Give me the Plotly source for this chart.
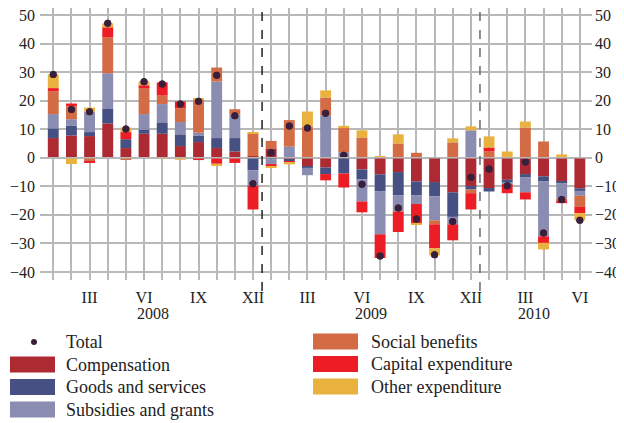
import plotly.graph_objects as go

# Months Jan 2008 .. Jun 2010
months = list(range(30))
month_labels = ["", "", "III", "", "", "VI", "", "", "IX", "", "", "XII",
                "", "", "III", "", "", "VI", "", "", "IX", "", "", "XII",
                "", "", "III", "", "", "VI"]
years = ["2008", "2009", "2010"]
year_month_counts = [12, 12, 6]

compensation = [6.9, 7.8, 7.6, 12.0, 3.4, 8.4, 8.4, 4.1, 5.5, 3.4, 2.2, 0.6,
                3.3, -0.7, -3.0, -3.4, 0.0, -4.1, -5.8, -5.0, -8.3, -8.5, -12.1, -9.9,
                -10.6, -7.7, -5.7, -6.5, -8.4, -10.7]
goods_services = [3.4, 3.5, 1.4, 5.3, 3.1, 1.5, 4.0, 4.1, 2.3, 3.5, 4.7, -4.4,
                  -0.6, -0.5, -0.5, -2.3, -5.5, -3.5, -6.0, -8.2, -4.9, -5.0, -8.6, -1.2,
                  -1.2, -0.9, -1.2, -1.8, -0.6, -0.9]
subsidies_grants = [5.0, 2.2, 7.2, 12.3, -0.4, 5.4, 6.4, 4.3, 1.0, 19.8, 8.3, -5.4,
                    -1.6, 3.9, -2.6, 14.8, 2.0, -7.7, -15.0, -5.6, -3.0, -8.4, -2.6, 9.6,
                    0.0, -0.6, -5.2, -19.2, -5.2, -1.7]
social_benefits = [8.0, 4.5, -1.2, 12.6, -0.3, 9.1, 3.0, 4.9, 11.6, 4.9, 1.8, 8.0,
                   2.6, 9.3, 11.0, 6.3, 8.4, 7.1, 0.0, 5.0, 1.75, -1.4, 5.4, -1.3,
                   2.2, 0.0, 10.6, 5.7, -0.7, -3.9]
capital_expenditure = [1.1, 1.0, -0.5, 3.5, 2.5, 1.0, 4.6, 2.3, -0.8, -2.1, -1.8, -8.3,
                       -0.8, -0.6, 0.0, -2.2, -4.9, -3.8, -8.3, -7.2, -6.7, -8.4, -5.6, -5.7,
                       1.4, -3.2, -2.5, -2.3, -1.0, -2.2]
other_expenditure = [4.8, -2.2, 1.4, 1.4, 1.6, 1.3, -0.4, -0.7, 0.4, -0.8, 0.0, 0.3,
                     -0.6, -0.5, 5.2, 2.5, 0.8, 2.5, 0.5, 3.2, -0.6, -2.5, 1.4, 1.4,
                     3.9, 2.2, 2.1, -2.3, 1.2, -2.5]
total = [29.2, 16.9, 16.1, 47.1, 10.1, 26.6, 25.8, 18.8, 19.8, 28.9, 14.7, -9.1,
         1.8, 11.1, 10.4, 15.6, 0.9, -9.3, -34.4, -17.6, -21.4, -34.0, -22.3, -6.8,
         -3.9, -9.8, -1.5, -26.3, -14.6, -21.9]

series_names = ["Compensation", "Goods and services", "Subsidies and grants",
                "Social benefits", "Capital expenditure", "Other expenditure"]
series_values = [compensation, goods_services, subsidies_grants,
                 social_benefits, capital_expenditure, other_expenditure]
series_colors = ["#ad2a33", "#465083", "#8a8db1", "#d36c45", "#ec1d25", "#e9b23f"]
total_color = "#3a1f3b"
y_ticks = [-40, -30, -20, -10, 0, 10, 20, 30, 40, 50]

FONT = "Liberation Serif"
GRID = "#b8b8b8"

fig = go.Figure()
for name, vals, col in zip(series_names, series_values, series_colors):
    fig.add_trace(go.Bar(x=months, y=vals, name=name, marker_color=col,
                         marker_line_width=0, width=0.6, showlegend=False))
fig.add_trace(go.Scatter(x=months, y=total, mode="markers", name="Total",
                         marker=dict(size=7, color=total_color), showlegend=False))
fig.add_trace(go.Scatter(x=months, y=total, mode="markers", yaxis="y2",
                         marker=dict(size=7, color=total_color), showlegend=False,
                         hoverinfo="skip"))

# page has an 8px body margin: work in page pixels and convert
OFF = 8
W, H = 624 - OFF, 423 - OFF
L, R, T, B = 40 - OFF, 592 - OFF, 0, 280 - OFF
def pxx(x):
    return (x - OFF - L) / (R - L)
def pxy(y):
    return (B - (y - OFF)) / (B - T)

Y_RANGE = [-42.8, 52.45]

shapes = []
annotations = []
# zero line above bars
shapes.append(dict(type="line", xref="paper", yref="y", x0=0, x1=1, y0=0, y1=0,
                   line=dict(color=GRID, width=1.5), layer="above"))
# year labels and separators
start = 0
year_seps = []
for i, n in enumerate(year_month_counts):
    annotations.append(dict(x=months[start] + (n - 1) / 2, y=pxy(313), xref="x", yref="paper",
                            text=years[i], showarrow=False,
                            font=dict(family=FONT, size=16, color="#222"),
                            xanchor="center", yanchor="middle"))
    if i < len(year_month_counts) - 1:
        year_seps.append(months[start + n - 1] + 0.5)
    start += n
for j, xs in enumerate(year_seps):
    shapes.append(dict(type="line", xref="x", yref="paper", x0=xs, x1=xs,
                       y0=pxy(291), y1=pxy(5),
                       line=dict(color="#222" if j == 0 else "#6a6a6a", width=1.5, dash="dash"),
                       layer="above"))

# manual legend
leg_font = dict(family=FONT, size=18, color="#222")
rows_y = [342, 364.5, 387, 409.5]
col1 = [("Total", None)] + list(zip(series_names[:3], series_colors[:3]))
col2 = list(zip(series_names[3:], series_colors[3:]))
for k, (name, col) in enumerate(col1):
    cy = rows_y[k]
    if col is None:
        shapes.append(dict(type="circle", xref="paper", yref="paper",
                           x0=pxx(31), x1=pxx(37), y0=pxy(cy + 3), y1=pxy(cy - 3),
                           fillcolor=total_color, line=dict(width=0)))
    else:
        shapes.append(dict(type="rect", xref="paper", yref="paper",
                           x0=pxx(10), x1=pxx(55), y0=pxy(cy + 8), y1=pxy(cy - 8),
                           fillcolor=col, line=dict(width=0)))
    annotations.append(dict(x=pxx(64), y=pxy(cy), xref="paper", yref="paper", text=name,
                            showarrow=False, font=leg_font, xanchor="left", yanchor="middle"))
for k, (name, col) in enumerate(col2):
    cy = rows_y[k] - 0.5
    shapes.append(dict(type="rect", xref="paper", yref="paper",
                       x0=pxx(313), x1=pxx(358), y0=pxy(cy + 8), y1=pxy(cy - 8),
                       fillcolor=col, line=dict(width=0)))
    annotations.append(dict(x=pxx(369), y=pxy(cy), xref="paper", yref="paper", text=name,
                            showarrow=False, font=leg_font, xanchor="left", yanchor="middle"))

fig.update_layout(
    width=W, height=H,
    margin=dict(l=L, r=W - R, t=T, b=H - B, autoexpand=False),
    paper_bgcolor="white", plot_bgcolor="white",
    barmode="relative", bargap=0.4,
    showlegend=False,
    font=dict(family=FONT, color="#222"),
    xaxis=dict(range=[-0.73, 29.67], tickmode="array", tickvals=months, ticktext=month_labels,
               showgrid=True, gridcolor=GRID, gridwidth=1.5, zeroline=False, showline=False,
               ticks="", tickfont=dict(family=FONT, size=16, color="#222"),
               ticklabelstandoff=6, automargin=False),
    yaxis=dict(range=Y_RANGE, tickmode="array", tickvals=y_ticks,
               showgrid=True, gridcolor=GRID, gridwidth=1.5, zeroline=False, showline=False,
               ticks="", tickfont=dict(family=FONT, size=16, color="#222"),
               ticklabelstandoff=4, automargin=False, ticklabeloverflow="allow"),
    yaxis2=dict(range=Y_RANGE, tickmode="array", tickvals=y_ticks, overlaying="y",
                side="right", showgrid=False, zeroline=False, showline=False, ticks="",
                tickfont=dict(family=FONT, size=16, color="#222"), ticklabelstandoff=2,
                automargin=False, ticklabeloverflow="allow"),
    shapes=shapes,
    annotations=annotations,
)

fig.write_html("out.html")
